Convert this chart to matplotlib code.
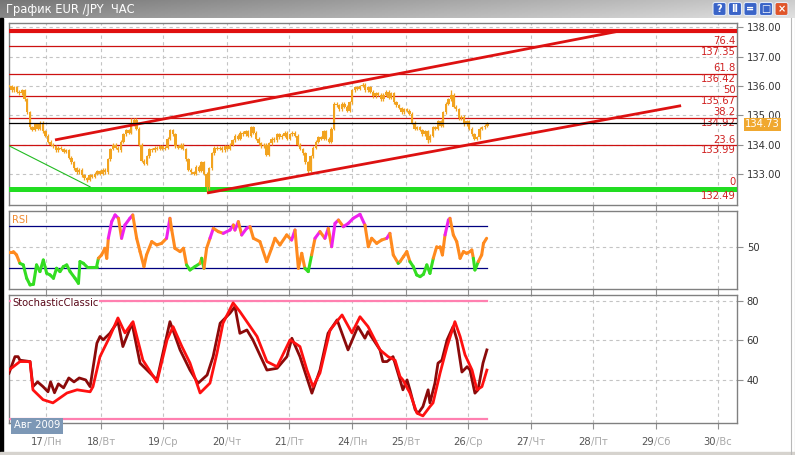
import numpy as np
import matplotlib
matplotlib.use("Agg")
import matplotlib.pyplot as plt
from matplotlib.collections import LineCollection
from matplotlib.patches import Rectangle, FancyBboxPatch
import matplotlib.transforms as mtransforms

plt.rcParams['font.family'] = ['DejaVu Sans']

# ---------------- data ----------------
title = "График EUR /JPY  ЧАС"

# hourly closes (EUR/JPY)
closes = [
    136.00, 135.85, 135.95, 135.80, 135.75, 135.85, 135.55, 135.10, 134.60, 134.50,
    134.70, 134.55, 134.75, 134.45, 134.30, 134.10, 134.00, 133.95, 133.80, 133.90,
    133.85, 133.75, 133.80, 133.55, 133.40, 133.20, 133.05, 133.15, 132.95, 132.85,
    132.80, 132.95, 132.90, 133.00, 133.10, 133.00, 133.15, 133.05, 133.50, 133.85,
    134.00, 133.90, 133.80, 134.10, 134.35, 134.50, 134.40, 134.70, 134.85, 134.55,
    134.00, 133.45, 133.35, 133.60, 133.85, 133.80, 133.90, 133.85, 133.95, 133.85,
    133.90, 134.20, 134.50, 134.35, 133.95, 133.90, 134.00, 133.85, 133.50, 133.15,
    133.05, 133.00, 133.25, 133.10, 133.40, 133.00, 132.55, 133.20, 133.70, 133.90,
    133.85, 133.90, 133.80, 133.95, 133.85, 134.00, 134.15, 134.30, 134.20, 134.40,
    134.35, 134.45, 134.30, 134.60, 134.40, 134.20, 134.05, 133.95, 134.00, 133.65,
    134.05, 134.20, 134.15, 134.35, 134.25, 134.30, 134.40, 134.20, 134.35, 134.40,
    134.30, 134.00, 133.85, 133.70, 133.40, 133.10, 133.60, 133.90, 134.10, 134.25,
    134.20, 134.45, 134.20, 134.10, 134.55, 135.40, 135.35, 135.20, 135.40, 135.30,
    135.15, 135.45, 135.85, 135.95, 135.90, 136.00, 136.05, 135.85, 135.95, 135.80,
    135.65, 135.75, 135.70, 135.55, 135.70, 135.80, 135.60, 135.75, 135.45, 135.35,
    135.25, 135.10, 135.20, 135.15, 135.05, 134.75, 134.55, 134.60, 134.50, 134.35,
    134.45, 134.15, 134.30, 134.60, 134.55, 134.80, 134.65, 135.10, 135.40, 135.55,
    135.70, 135.30, 135.20, 134.90, 134.95, 134.70, 134.80, 134.55, 134.35, 134.20,
    134.25, 134.55, 134.60, 134.65, 134.73,
]
wick_idx = [30, 47, 76, 115, 136, 161, 170]
wick_val = [132.72, 134.92, 132.35, 133.00, 136.10, 134.05, 135.85]

day_ticks = [14.2, 35.4, 59.2, 83.8, 107.7, 131.9, 152.7, 176.5, 200.8, 224.6, 248.8, 272.7]
day_nums = ["17", "18", "19", "20", "21", "24", "25", "26", "27", "28", "29", "30"]
day_names = ["Пн", "Вт", "Ср", "Чт", "Пт", "Пн", "Вт", "Ср", "Чт", "Пт", "Сб", "Вс"]
month_label = "Авг 2009"

price_ticks = [133, 134, 135, 136, 137, 138]
fib_pct = ["76.4", "61.8", "50", "38.2", "23.6", "0"]
fib_price = [137.35, 136.42, 135.67, 134.92, 133.99, 132.49]
top_level = 137.88
last_price = 134.73

upper_channel_x = [17.7, 235.0]
upper_channel_y = [134.16, 137.88]
lower_channel_x = [76.2, 258.5]
lower_channel_y = [132.35, 135.33]
green_trend_x = [0.0, 31.2]
green_trend_y = [133.96, 132.56]

rsi_x = [0, 1.7, 2.9, 4.2, 5.5, 6.8, 8.1, 9.4, 10.6, 11.9, 13.2, 14.5, 15.8, 17.1, 18.3, 19.6,
         20.9, 22.2, 23.5, 25.4, 26.7, 27.3, 28.6, 29.9, 33.7, 34.4, 35.6, 36.9, 37.6, 38.2,
         39.5, 40.8, 42.1, 43.3, 44.6, 46.5, 47.6, 49.1, 50.4, 51.9, 52.9, 54.9, 56.8, 58.7,
         60.6, 61.9, 62.6, 63.8, 65.8, 67.1, 68.3, 69.6, 71.5, 73.5, 74.1, 75.0, 76.0, 77.3,
         78.6, 80.5, 82.4, 85.0, 86.3, 86.9, 88.2, 89.5, 91.4, 92.7, 94.0, 96.5, 99.1, 101.0,
         102.3, 104.2, 106.8, 108.7, 110.0, 111.3, 112.6, 113.8, 115.1, 116.4, 117.7, 119.6,
         121.5, 122.8, 124.1, 125.4, 126.7, 128.6, 130.5, 132.4, 135.0, 136.9, 138.2, 139.5,
         141.4, 143.3, 145.3, 146.5, 147.8, 149.7, 150.4, 151.7, 153.0, 154.2, 155.5, 156.8,
         158.1, 159.4, 160.7, 161.9, 163.2, 164.5, 165.8, 166.7, 167.7, 169.0, 169.6, 170.9,
         172.2, 173.5, 174.8, 176.0, 177.3, 178.0, 178.6, 179.2, 180.5, 181.8, 182.5, 183.7]
rsi_v = [45.7, 45.7, 42.6, 34.8, 33.3, 20.9, 14.7, 15.3, 33.3, 27.1, 37.9, 25.5, 24.0, 20.9, 30.2, 27.1,
         31.7, 33.3, 27.1, 20.9, 16.2, 36.4, 34.8, 31.7, 31.7, 39.5, 42.6, 48.8, 39.5, 58.1,
         73.6, 79.8, 76.7, 58.1, 70.5, 76.7, 79.8, 58.1, 45.7, 31.7, 42.6, 55.0, 51.9, 53.4,
         58.1, 76.7, 65.8, 48.8, 45.7, 48.8, 33.3, 28.6, 31.7, 34.8, 39.5, 30.2, 48.8, 58.1,
         67.4, 64.3, 62.7, 65.8, 70.5, 65.8, 73.6, 61.2, 67.4, 68.9, 58.1, 55.0, 36.4, 48.8,
         58.1, 51.9, 61.2, 56.5, 65.8, 30.2, 44.1, 30.2, 27.1, 42.6, 58.1, 64.3,
         58.1, 67.4, 50.3, 72.0, 75.1, 68.9, 72.0, 76.7, 80.4, 70.5, 50.3, 58.1,
         53.4, 56.5, 58.1, 62.7, 42.6, 34.8, 36.4, 41.0, 45.7, 36.4, 31.7, 24.0,
         22.4, 24.6, 33.3, 25.5, 39.5, 50.3, 50.3, 42.6, 61.2, 75.1, 76.7, 61.2,
         55.0, 39.5, 45.7, 44.1, 45.7, 47.2, 39.5, 28.6, 36.4, 42.6, 53.4, 58.1]
rsi_levels = [30, 70]
rsi_ticks = [50]

stoch_k_x = [0, 2.3, 3.5, 4.2, 8.1, 9.2, 11, 13.1, 15, 16, 17.5, 19, 21, 23, 25, 27, 29.5, 31.2,
             33.8, 35, 36.2, 38.8, 40, 41.9, 43.8, 47.3, 50.4, 53.1, 56.9, 61.9, 65.8, 69.6,
             72.7, 76.2, 78.5, 81.2, 85, 86.9, 88.8, 91.5, 93.8, 99.2, 103.1, 106.9, 108.8,
             111.9, 116.5, 119.6, 122.7, 126.2, 130.4, 134.2, 136.9, 138.1, 142.7, 143.8,
             145.4, 147.7, 150.4, 151.5, 153.1, 154.2, 156.2, 157.3, 159.2, 161.2, 161.9,
             163.8, 165, 166.5, 168.5, 170.8, 172.3, 174.2, 176.2, 177.3, 179.2, 180.4,
             182.3, 183.8]
stoch_k = [43.4, 51.8, 51.8, 50, 49.3, 36.6, 39, 36.6, 34, 39, 33.5, 38, 36, 41, 39, 41, 40, 36.6,
           58.6, 62, 60.3, 63.6, 66, 69.5, 56.9, 68.7, 48.5, 45, 40, 69.5, 55.2, 45,
           38.3, 42.5, 51.8, 68.7, 73.8, 77.1, 63.6, 65.3, 60.3, 45, 45.9, 51.8, 61.1,
           51.8, 33.3, 45, 63.6, 70.4, 55.2, 67, 61.1, 64.5, 55.2, 49.3,
           49.3, 51.8, 40, 35, 40, 35, 25, 23, 26.5, 35, 28.4,
           38.3, 48.5, 50, 60.3, 67, 60.3, 44, 46.7, 45, 33.3, 35,
           48.5, 55.2]
stoch_d_x = [0, 4.2, 8.1, 9.2, 13.1, 16.9, 22.3, 26.2, 31.2, 32.3, 35, 38.8, 41.9, 44.6, 47.7,
             51.5, 56.9, 60.8, 63.1, 66.5, 69.6, 73.5, 77.3, 80, 82.3, 86.2, 88.8, 91.9, 95.4,
             99.2, 103.1, 108.1, 111.9, 114.6, 116.9, 119.6, 123.5, 128.1, 131.9, 135, 138.1,
             142.7, 145.8, 148.5, 150.4, 151.5, 154.2, 156.9, 159.2, 161.9, 163.1, 165.8,
             168.5, 171.5, 173.5, 175.4, 178.1, 180, 181.9, 183.8]
stoch_d = [45, 49.3, 49.3, 35, 30, 28.4, 33.4, 35, 34, 36.6, 51.8, 62, 71.4, 63.8, 69.5,
           50, 39, 60.3, 67, 56.9, 48.6, 33.4, 38.4, 53.6, 68.7, 79, 74.6, 68.7, 62,
           49.3, 46.7, 60.3, 56.9, 45, 36.6, 43.5, 65.3, 72.9, 63.8, 72, 67,
           55.2, 51.8, 50, 41.7, 40, 33.4, 23.2, 21.8, 26.5, 28.4, 43.5,
           56.9, 69.5, 62, 52.7, 45, 35, 36.6, 45]
stoch_levels = [20, 80]
stoch_ticks = [40, 60, 80]

# ---------------- figure ----------------
W, H = 795, 455
fig = plt.figure(figsize=(W / 100, H / 100), dpi=100)
fig.patch.set_facecolor('white')


def rect(x0, y0, x1, y1):
    return [x0 / W, 1 - y1 / H, (x1 - x0) / W, (y1 - y0) / H]


ax1 = fig.add_axes(rect(9, 23, 737, 205))
ax2 = fig.add_axes(rect(9, 211, 737, 289))
ax3 = fig.add_axes(rect(9, 295, 737, 423))

GRID = dict(color='#c4c4c4', ls=(0, (3, 3)), lw=0.8)
TXT = 7.2
ORANGE = '#f2a31f'

for ax in (ax1, ax2, ax3):
    ax.set_xlim(0, 280)
    ax.set_xticks(day_ticks)
    ax.yaxis.tick_right()
    ax.tick_params(axis='both', direction='out', length=4, color='#909090', width=0.8,
                   labelsize=TXT, labelcolor='#333333', pad=3, labelbottom=False)
    ax.grid(True, **GRID)
    ax.set_axisbelow(True)
    for s in ax.spines.values():
        s.set_color('#808080')
        s.set_linewidth(1.0)

# ---- main price panel ----
ax1.set_ylim(131.94, 138.15)
ax1.set_yticks(price_ticks)
ax1.set_yticklabels([f"{t:.2f}" for t in price_ticks])

ax1.axhline(top_level, color='#e01010', lw=3.0, zorder=3)
trans_r = mtransforms.blended_transform_factory(ax1.transAxes, ax1.transData)
for pct, pr in zip(fib_pct, fib_price):
    if pct == "0":
        ax1.axhline(pr, color='#22dd22', lw=3.6, zorder=3)
    else:
        ax1.axhline(pr, color='#cc1111', lw=0.9, zorder=3)
    ax1.annotate(pct, (1, pr), xycoords=trans_r, xytext=(-1, 1.2 if pct == "0" else 0.3),
                 textcoords='offset points', ha='right', va='bottom', fontsize=TXT,
                 color='#d02020', zorder=5)
    ax1.annotate(f"{pr:.2f}", (1, pr), xycoords=trans_r, xytext=(-1, -1.2 if pct == "0" else -0.3),
                 textcoords='offset points', ha='right', va='top', fontsize=TXT,
                 color='#d02020', zorder=5)

ax1.axhline(last_price, color='black', lw=0.9, zorder=6)

# candles: body from previous close to close, thin wick extension as drawing style
WICK_PAD = 0.05
idx = np.arange(len(closes))
c = np.array(closes)
o = np.concatenate([[c[0]], c[:-1]])
lo = np.minimum(o, c)
hi = np.maximum(o, c)
ax1.vlines(idx, lo - WICK_PAD, hi + WICK_PAD, color=ORANGE, lw=0.9, zorder=4)
ax1.bar(idx, np.maximum(hi - lo, 0.03), bottom=lo, width=0.85, color=ORANGE, zorder=4, linewidth=0)
for wi, wv in zip(wick_idx, wick_val):
    ax1.vlines(wi, min(wv, lo[wi]), max(wv, hi[wi]), color=ORANGE, lw=0.9, zorder=4)

ax1.plot(upper_channel_x, upper_channel_y, color='#dd1111', lw=2.0, zorder=5, solid_capstyle='butt')
ax1.plot(lower_channel_x, lower_channel_y, color='#dd1111', lw=2.0, zorder=5, solid_capstyle='butt')
ax1.plot(green_trend_x, green_trend_y, color='#22bb22', lw=0.8, zorder=5)

ax1.text(1.0, last_price, f"{last_price:.2f}",
         transform=trans_r + mtransforms.ScaledTranslation(8 / 100, -1 / 100, fig.dpi_scale_trans),
         ha='left', va='center', fontsize=TXT, color='white', zorder=10, clip_on=False,
         bbox=dict(boxstyle='square,pad=0.15', fc='#f0a830', ec='none'))

# ---- RSI panel ----
ax2.set_ylim(10.9, 83.5)
ax2.set_yticks(rsi_ticks)
last_x = len(closes) - 1
for lv in rsi_levels:
    ax2.plot([0, last_x], [lv, lv], color='#000080', lw=0.9, zorder=3)
rx = np.array(rsi_x)
rv = np.array(rsi_v)
pts = np.column_stack([rx, rv])
segs = np.stack([pts[:-1], pts[1:]], axis=1)
cols = []
for a, b in zip(rv[:-1], rv[1:]):
    m = (a + b) / 2
    if m > 74 or (m > 60 and b > a):
        cols.append('#ee22ee')
    elif m < 36:
        cols.append('#33dd22')
    else:
        cols.append('#ff8a1e')
ax2.add_collection(LineCollection(segs, colors=cols, linewidths=2.2, zorder=4,
                                  capstyle='round', joinstyle='round'))
ax2.text(0.004, 0.955, "RSI", transform=ax2.transAxes, ha='left', va='top', fontsize=TXT, color='#f08a30')

# ---- Stochastic panel ----
ax3.set_ylim(18.2, 83.0)
ax3.set_yticks(stoch_ticks)
for lv in stoch_levels:
    ax3.plot([0, last_x], [lv, lv], color='#ff80b0', lw=1.6, zorder=3)
ax3.plot(stoch_k_x, stoch_k, color='#8b0a0a', lw=2.0, zorder=4, solid_joinstyle='round')
ax3.plot(stoch_d_x, stoch_d, color='#ff1010', lw=2.0, zorder=5, solid_joinstyle='round')
ax3.text(0.004, 0.975, "StochasticClassic", transform=ax3.transAxes, ha='left', va='top',
         fontsize=TXT, color='#5a0a1a', zorder=8,
         bbox=dict(boxstyle='square,pad=0.05', fc='white', ec='none'))

# x labels (number dark, weekday light)
tr = mtransforms.blended_transform_factory(ax3.transData, ax3.transAxes) + \
    mtransforms.ScaledTranslation(-2 / 100, 0, fig.dpi_scale_trans)
for x, n, d in zip(day_ticks, day_nums, day_names):
    ax3.text(x, -19 / 128, n, transform=tr, ha='right', va='center', fontsize=TXT, color='#555555')
    ax3.text(x, -19 / 128, "/" + d, transform=tr, ha='left', va='center', fontsize=TXT, color='#a8a8a8')

# ---------------- overlay: window chrome ----------------
ov = fig.add_axes([0, 0, 1, 1])
ov.set_xlim(0, W)
ov.set_ylim(H, 0)
ov.axis('off')
ov.patch.set_alpha(0)

grad = np.linspace(0, 1, 256)[None, :] * np.ones((18, 1))
vert = np.linspace(0.0, 0.08, 18)[:, None]
g = 0.46 + 0.34 * grad + vert
img = np.dstack([g, g, g])
ov.imshow(np.clip(img, 0, 1), extent=(0, W, 18, 0), aspect='auto', zorder=1)
ov.text(6, 9.5, title, ha='left', va='center', fontsize=8.3, color='white', zorder=2)

btn_x = [713, 728.5, 744, 759.5, 775]
btn_sym = ["?", "II", "=", "□", "×"]
for bx, sym in zip(btn_x, btn_sym):
    fc = '#e0552a' if sym == "×" else '#3a64c8'
    ov.add_patch(FancyBboxPatch((bx, 2.5), 13, 13, boxstyle='round,pad=0,rounding_size=2',
                                fc=fc, ec='#e4ebf8', lw=0.8, zorder=3))
    ov.text(bx + 6.5, 9.2, sym, ha='center', va='center', fontsize=7, color='white',
            fontweight='bold', zorder=4)

ov.add_patch(Rectangle((0, 18), 2.5, H - 21, color='black', zorder=2))
ov.add_patch(Rectangle((0, H - 3), W, 3, color='#d6d3ce', zorder=2))
ov.plot([790.5, 790.5], [18, H], color='#b8b8b8', lw=0.8, zorder=2)
ov.plot([794.5, 794.5], [18, H], color='#909090', lw=0.8, zorder=2)

ov.text(14, 425.5, month_label, ha='left', va='center', fontsize=TXT, color='white', zorder=6,
        bbox=dict(boxstyle='square,pad=0.3', fc='#7d98b6', ec='none'))

fig.savefig("out.png", dpi=100)
